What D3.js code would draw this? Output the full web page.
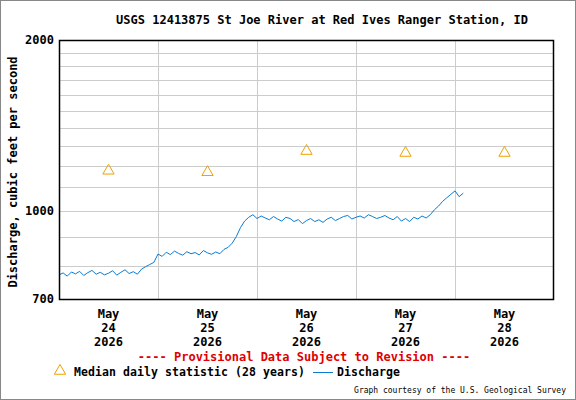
<!DOCTYPE html>
<html><head><meta charset="utf-8">
<script src="https://cdn.jsdelivr.net/npm/d3@7"></script>
<style>body{margin:0;background:#fff}text{font-family:"DejaVu Sans Mono",monospace;font-weight:bold}</style>
</head><body><svg id="chart" width="576" height="400"></svg>
<script>
// hourly discharge, starting 2026-05-23 12:00
var startTime = new Date(2026, 4, 23, 12);
var discharge = [772,778,768,781,775,783,770,779,786,774,780,772,
    777,785,771,780,788,776,782,774,790,798,805,812,
    840,832,846,838,850,842,836,848,841,845,837,852,
    844,839,847,841,856,863,
    878,902,935,960,975,985,970,980,
    972,965,978,968,960,975,970,958,966,950,962,970,958,965,955,968,975,962,970,978,
    982,968,975,980,972,985,978,970,975,982,972,965,978,960,970,958,975,968,980,972,
    985,1005,1020,1040,1055,1070,1085,1060,1075];
var medianDays = [new Date(2026,4,24), new Date(2026,4,25), new Date(2026,4,26), new Date(2026,4,27), new Date(2026,4,28)];
var medianValues = [1177, 1170, 1275, 1265, 1265];
var yGrid = [800,900,1000,1100,1200,1300,1400,1500,1600,1700,1800,1900];
var yTicks = [700,1000,2000];

var svg = d3.select("#chart");
var pLeft = 59, pRight = 554, pTop = 40, pBottom = 299;

var x = d3.scaleTime()
    .domain([new Date(2026,4,23,12), new Date(2026,4,28,12)])
    .range([pLeft, pRight]);
var y = d3.scaleLog().domain([700, 2000]).range([pBottom, pTop]);

svg.append("rect").attr("x",0.5).attr("y",0.5).attr("width",575).attr("height",399)
    .attr("fill","none").attr("stroke","#888");

var g = svg.append("g");
g.selectAll(".hg").data(yGrid).enter().append("line")
    .attr("x1",pLeft).attr("x2",pRight)
    .attr("y1",function(d){return Math.round(y(d))+0.5;})
    .attr("y2",function(d){return Math.round(y(d))+0.5;})
    .attr("stroke","#ccc");
var noons = d3.timeDays(new Date(2026,4,23), new Date(2026,4,28)).map(function(d){return d3.timeHour.offset(d,12);})
    .filter(function(d){return x(d) > pLeft + 1 && x(d) < pRight - 1;});
g.selectAll(".vg").data(noons).enter().append("line")
    .attr("x1",function(d){return Math.round(x(d))+0.5;})
    .attr("x2",function(d){return Math.round(x(d))+0.5;})
    .attr("y1",pTop).attr("y2",pBottom).attr("stroke","#ccc");

var line = d3.line()
    .x(function(d,i){return x(d3.timeHour.offset(startTime,i));})
    .y(function(d){return y(d);});
svg.append("path").datum(discharge).attr("d",line)
    .attr("fill","none").attr("stroke","#0a7cd0").attr("stroke-width",1);

var tri = d3.symbol().type(d3.symbolTriangle).size(55);
svg.selectAll(".med").data(medianValues).enter().append("path")
    .attr("d",tri)
    .attr("transform",function(d,i){return "translate("+x(medianDays[i])+","+y(d)+")";})
    .attr("fill","none").attr("stroke","#f0a000");

svg.append("rect").attr("x",pLeft+0.5).attr("y",pTop+0.5)
    .attr("width",pRight-pLeft-1).attr("height",pBottom-pTop)
    .attr("fill","none").attr("stroke","#000").attr("stroke-width",1.5);

svg.selectAll(".yt").data(yTicks).enter().append("text")
    .attr("x",pLeft-5).attr("y",function(d){return y(d)+4;})
    .attr("text-anchor","end").attr("font-size",12).text(function(d){return d;});

var fmt = [d3.timeFormat("%b"), d3.timeFormat("%d"), d3.timeFormat("%Y")];
medianDays.forEach(function(d){
    fmt.forEach(function(f,k){
        svg.append("text").attr("x",x(d)).attr("y",318+k*14)
            .attr("text-anchor","middle").attr("font-size",12).text(f(d));
    });
});

svg.append("text").attr("x",322).attr("y",24).attr("text-anchor","middle")
    .attr("font-size",12).text("USGS 12413875 St Joe River at Red Ives Ranger Station, ID");
svg.append("text").attr("transform","translate(17,172)rotate(-90)")
    .attr("text-anchor","middle").attr("font-size",12).text("Discharge, cubic feet per second");
svg.append("text").attr("x",304).attr("y",361).attr("text-anchor","middle")
    .attr("font-size",12).attr("fill","#e00000").text("---- Provisional Data Subject to Revision ----");

svg.append("path").attr("d",tri).attr("transform","translate(60,371)")
    .attr("fill","none").attr("stroke","#f0a000");
svg.append("text").attr("x",74).attr("y",376).attr("font-size",11.5)
    .attr("textLength",231).text("Median daily statistic (28 years)");
svg.append("line").attr("x1",313).attr("x2",333).attr("y1",372.5).attr("y2",372.5)
    .attr("stroke","#0a7cd0");
svg.append("text").attr("x",337).attr("y",376).attr("font-size",11.5)
    .attr("textLength",63).text("Discharge");
svg.append("text").attr("x",566).attr("y",393).attr("text-anchor","end")
    .attr("font-size",8).style("font-weight","normal")
    .text("Graph courtesy of the U.S. Geological Survey");
</script></body></html>
